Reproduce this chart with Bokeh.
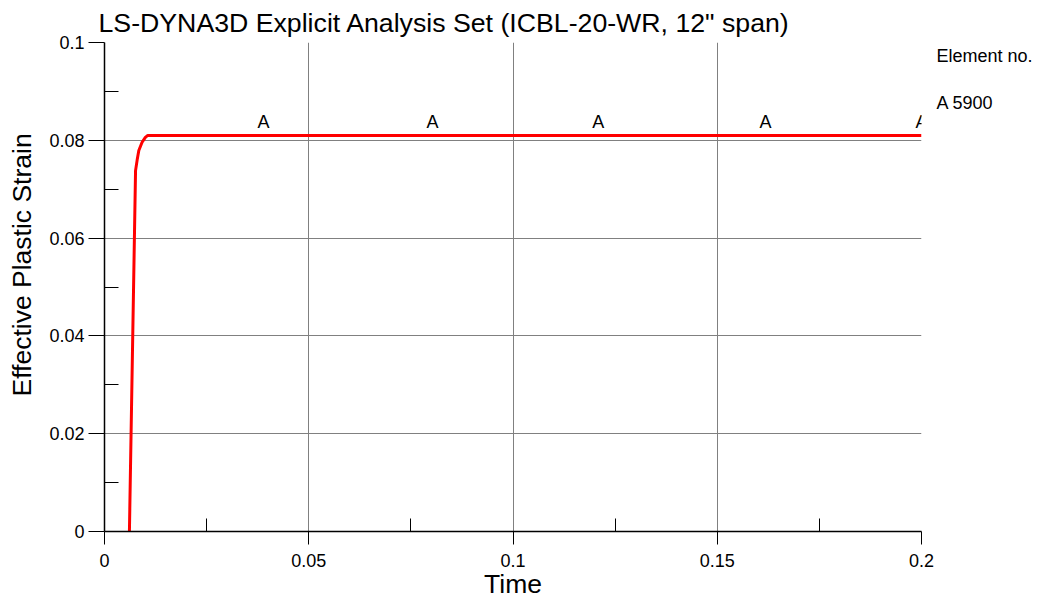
from bokeh.plotting import figure
from bokeh.models import Range1d, FixedTicker, LabelSet, ColumnDataSource, LinearAxis
from bokeh.core.properties import value
from bokeh.embed import file_html
from bokeh.resources import INLINE

# ---- data ----
time = [0.0061, 0.0076, 0.0080, 0.0084, 0.0092, 0.0100, 0.0106, 0.2]
strain = [0.0, 0.0738, 0.0760, 0.0779, 0.0796, 0.0806, 0.0810, 0.0810]
marker_time = [0.0389, 0.0803, 0.1209, 0.1618, 0.2]
marker_strain = [0.081, 0.081, 0.081, 0.081, 0.081]
marker_text = ["A", "A", "A", "A", "A"]
x_major = [0, 0.05, 0.1, 0.15, 0.2]
x_minor = [0.025, 0.075, 0.125, 0.175]
y_major = [0, 0.02, 0.04, 0.06, 0.08, 0.1]
y_minor = [0.01, 0.03, 0.05, 0.07, 0.09]
x_labels = {0: "0", 0.05: "0.05", 0.1: "0.1", 0.15: "0.15", 0.2: "0.2"}
y_labels = {0: "0", 0.02: "0.02", 0.04: "0.04", 0.06: "0.06", 0.08: "0.08", 0.1: "0.1"}
title_text = 'LS-DYNA3D Explicit Analysis Set (ICBL-20-WR, 12" span)'
legend_title = "Element no."
legend_entry = "A 5900"
x_title = "Time"
y_title = "Effective Plastic Strain"

FONT = "Liberation Sans"
W, H = 1046, 602
LEFT, RIGHT, TOP, BOTTOM = 104, 125, 42, 71
frame_h = H - TOP - BOTTOM
y0, y1 = 0, 0.1

p = figure(width=W, height=H, output_backend="svg", toolbar_location=None,
           x_range=Range1d(0, 0.2), y_range=Range1d(y0, y1),
           min_border_left=LEFT, min_border_right=RIGHT, min_border_top=TOP,
           min_border_bottom=BOTTOM)
p.outline_line_color = None
p.background_fill_color = "white"
p.border_fill_color = "white"

p.title.text = title_text
p.title.align = "left"
p.title.offset = -6
p.title.text_font = FONT
p.title.text_font_size = "26.7px"
p.title.text_font_style = "normal"
p.title.text_color = "black"
p.title.standoff = 10

p.xaxis.ticker = FixedTicker(ticks=x_major, minor_ticks=x_minor)
p.yaxis.ticker = FixedTicker(ticks=y_major, minor_ticks=y_minor)
p.xaxis.major_label_overrides = x_labels
p.yaxis.major_label_overrides = y_labels

for ax in (p.xaxis, p.yaxis):
    ax.axis_line_color = "black"
    ax.axis_line_width = 1.5
    ax.major_tick_line_color = "black"
    ax.minor_tick_line_color = "black"
    ax.major_tick_in = 0
    ax.minor_tick_out = 0
    ax.major_label_text_font = FONT
    ax.major_label_text_font_size = "18px"
    ax.major_label_text_color = "black"
    ax.axis_label_text_font = FONT
    ax.axis_label_text_font_size = "26.5px"
    ax.axis_label_text_font_style = "normal"
    ax.axis_label_text_color = "black"

p.xaxis.axis_label = x_title
p.yaxis.axis_label = "\u00a0" * 6 + y_title
p.xaxis.major_tick_out = 13
p.xaxis.minor_tick_in = 13
p.xaxis.major_label_standoff = 9
p.xaxis.axis_label_standoff = -1
p.yaxis.major_tick_out = 16
p.yaxis.minor_tick_in = 14
p.yaxis.major_label_standoff = 4
p.yaxis.axis_label_standoff = 9

p.xgrid.ticker = FixedTicker(ticks=x_major)
p.ygrid.ticker = FixedTicker(ticks=y_major)
p.grid.grid_line_color = "#808080"
p.grid.grid_line_width = 1

p.line(time, strain, line_color="red", line_width=3)

src = ColumnDataSource(dict(x=marker_time, y=marker_strain, t=marker_text))
p.add_layout(LabelSet(x="x", y="y", text="t", source=src, text_align="center",
                      text_baseline="alphabetic", y_offset=7,
                      text_font=value(FONT), text_font_size=value("18px"),
                      text_color="black"))

# right-hand legend text, placed via a label-only axis (pixel offsets below frame top)
per_px = (y1 - y0) / frame_h
leg_y = [y1 - 13 * per_px, y1 - 60 * per_px]
right_ax = LinearAxis(ticker=FixedTicker(ticks=leg_y),
                      major_label_overrides={leg_y[0]: legend_title, leg_y[1]: legend_entry},
                      axis_line_color=None, major_tick_line_color=None,
                      minor_tick_line_color=None, major_label_standoff=9,
                      major_label_text_font=FONT, major_label_text_font_size="18px",
                      major_label_text_color="black")
p.add_layout(right_ax, "right")

open("out.html", "w").write(file_html(p, INLINE))
